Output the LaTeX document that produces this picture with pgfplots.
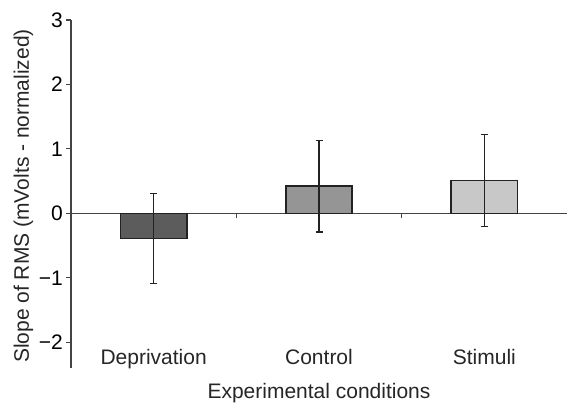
\documentclass[border=0pt]{standalone}
\usepackage{pgfplots}
\pgfplotsset{compat=1.18}
\usepackage{fontspec}
\setmainfont{Liberation Sans}
\definecolor{barA}{HTML}{5C5C5C}
\definecolor{barB}{HTML}{959595}
\definecolor{barC}{HTML}{C8C8C8}
\definecolor{edge}{HTML}{222222}
\definecolor{axline}{HTML}{444444}
\begin{document}
\begin{tikzpicture}[font=\fontsize{21bp}{25bp}\selectfont]
\begin{axis}[
  name=ax,
  at={(0,0)}, anchor=south west,
  scale only axis,
  width=496bp, height=348bp,
  xmin=-0.5, xmax=2.5,
  ymin=-2.4, ymax=3,
  axis y line=left,
  axis x line=middle,
  axis line style={-, color=axline, line width=1.2bp},
  xtick={0.5,1.5},
  xticklabels={},
  ytick={-2,-1,0,1,2,3},
  yticklabels={−2,−1,0,1,2,3},
  tick align=outside,
  major tick length=5bp,
  tick style={color=axline, line width=1.2bp},
  yticklabel style={inner sep=0pt, xshift=-3bp},
  ybar, bar width=0.4, bar shift=0pt,
  clip=false,
]
\addplot[fill=barA, draw=edge, line width=1.6bp,
  error bars/.cd, y dir=both, y explicit, error mark=|,
  error bar style={color=edge, line width=1.4bp},
  error mark options={mark size=3.5bp, line width=1.4bp, color=edge}]
  coordinates {(0,-0.39) +- (0,0.70)};
\addplot[fill=barB, draw=edge, line width=1.6bp,
  error bars/.cd, y dir=both, y explicit, error mark=|,
  error bar style={color=edge, line width=1.4bp},
  error mark options={mark size=3.5bp, line width=1.4bp, color=edge}]
  coordinates {(1,0.42) +- (0,0.71)};
\addplot[fill=barC, draw=edge, line width=1.6bp,
  error bars/.cd, y dir=both, y explicit, error mark=|,
  error bar style={color=edge, line width=1.4bp},
  error mark options={mark size=3.5bp, line width=1.4bp, color=edge}]
  coordinates {(2,0.51) +- (0,0.71)};
\node[anchor=base, text=black!85] at (axis cs:0,-2.35) {Deprivation};
\node[anchor=base, text=black!85] at (axis cs:1,-2.35) {Control};
\node[anchor=base, text=black!85] at (axis cs:2,-2.35) {Stimuli};
\end{axis}
\node[anchor=base, text=black!85] at ([yshift=-30bp]ax.south) {Experimental conditions};
\node[anchor=base, rotate=90, text=black!85] at ([xshift=-42bp, yshift=-2bp]ax.west) {Slope of RMS (mVolts - normalized)};
\pgfresetboundingbox
\path ([xshift=-71bp, yshift=-44bp]ax.south west) rectangle ++(567bp,412bp);
\end{tikzpicture}
\end{document}
